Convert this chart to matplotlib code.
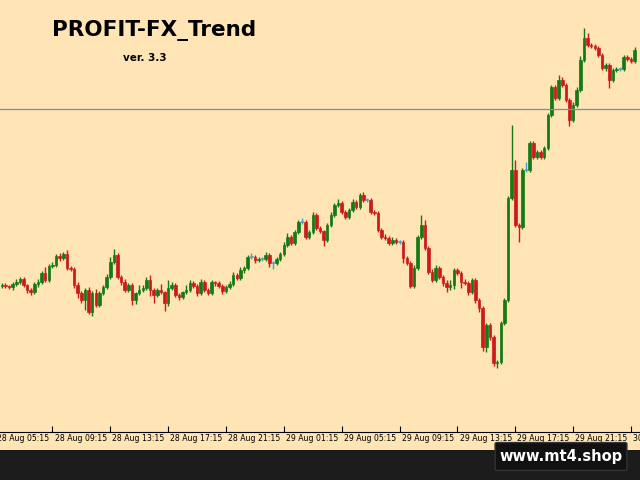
import matplotlib
matplotlib.use('Agg')
import matplotlib.pyplot as plt
from matplotlib.patches import Rectangle, FancyBboxPatch

# close prices (chart units), 15-minute candles
closes = [195, 194, 193, 196, 198, 201, 195, 190, 188, 196,
          198, 207, 200, 214, 215, 224, 222, 226, 212, 211,
          195, 187, 180, 190, 168, 187, 175, 187, 193, 203,
          218, 225, 203, 198, 190, 195, 180, 187, 190, 192,
          200, 190, 185, 190, 188, 177, 192, 195, 185, 183,
          188, 190, 197, 194, 187, 198, 190, 187, 198, 197,
          194, 189, 193, 196, 205, 202, 210,
          212, 223, 223, 220, 221, 221, 225, 217, 217, 221,
          226, 235, 243, 237, 248, 258, 258, 243, 248, 265,
          252, 249, 240, 255, 265, 275, 277, 268, 263, 270,
          278, 273, 285, 280, 280, 268, 267, 250, 243, 242,
          237, 240, 238, 238, 222, 217, 194, 212, 243, 255,
          232, 208, 200, 212, 203, 197, 193, 195, 210, 207,
          198, 197, 188, 200,
          180, 172, 133, 155, 143, 117, 118, 157, 180, 282,
          310, 255, 253, 310, 310, 337, 323, 328, 323, 332,
          365, 393, 382, 400, 395, 380, 360, 375, 390, 420,
          442, 435, 434, 432, 425, 412, 415, 400, 410, 411,
          411, 423, 421, 419, 430]
first_open = 194
# wick lengths above / below the body
wick_up = [2, 2, 1, 2, 3, 2, 2, 1, 2, 2,
           3, 2, 6, 2, 3, 2, 3, 2, 4, 2,
           2, 3, 2, 2, 3, 2, 4, 2, 2, 3,
           5, 6, 2, 2, 3, 2, 2, 1, 5, 3,
           3, 5, 2, 2, 6, 1, 8, 3, 2, 2,
           1, 5, 3, 2, 2, 3, 2, 2, 2, 1,
           2, 2, 2, 3, 3, 2, 3,
           2, 2, 4, 2, 2, 2, 3, 2, 2, 2,
           2, 3, 4, 2, 2, 2, 4, 2, 2, 3,
           2, 2, 1, 2, 3, 2, 4, 2, 2, 2,
           3, 2, 2, 3, 2, 2, 2, 2, 2, 3,
           2, 3, 2, 2, 2, 2, 2, 3, 2, 10,
           5, 2, 3, 3, 2, 2, 3, 5, 2, 2,
           2, 3, 2, 2,
           2, 2, 2, 2, 2, 2, 2, 2, 2, 2,
           45, 10, 2, 2, 8, 2, 2, 2, 2, 2,
           2, 2, 2, 5, 3, 2, 2, 3, 3, 4,
           10, 5, 2, 2, 2, 2, 2, 2, 2, 2,
           2, 2, 2, 2, 3]
wick_dn = [2, 2, 2, 3, 2, 2, 2, 3, 3, 2,
           3, 2, 2, 2, 2, 2, 3, 2, 2, 2,
           3, 5, 3, 10, 2, 4, 2, 2, 2, 2,
           2, 2, 2, 3, 2, 2, 5, 4, 2, 2,
           2, 6, 8, 2, 2, 8, 3, 2, 2, 3,
           2, 2, 2, 2, 3, 2, 2, 2, 2, 3,
           2, 3, 2, 2, 2, 2, 2,
           3, 2, 2, 3, 2, 2, 2, 4, 6, 2,
           2, 2, 2, 2, 2, 2, 2, 2, 2, 2,
           2, 2, 6, 2, 2, 2, 2, 2, 2, 2,
           2, 2, 2, 2, 2, 2, 2, 2, 2, 2,
           2, 2, 2, 2, 5, 2, 2, 2, 2, 2,
           2, 2, 2, 2, 2, 3, 5, 3, 4, 2,
           6, 2, 3, 2,
           3, 4, 4, 5, 3, 3, 5, 2, 2, 2,
           2, 2, 15, 2, 2, 2, 2, 2, 2, 2,
           2, 2, 2, 2, 2, 2, 6, 2, 2, 2,
           2, 2, 2, 2, 2, 2, 3, 8, 2, 2,
           2, 2, 2, 2, 2]

tick_labels = ['28 Aug 05:15', '28 Aug 09:15', '28 Aug 13:15',
               '28 Aug 17:15', '28 Aug 21:15', '29 Aug 01:15', '29 Aug 05:15',
               '29 Aug 09:15', '29 Aug 13:15', '29 Aug 17:15', '29 Aug 21:15',
               '30 Aug 01:15']
tick_index = [-2 + 16 * k for k in range(len(tick_labels))]
hline_level = 371

bg = '#FFE4B5'
up_color = '#147a14'
dn_color = '#cc1a1a'

fig = plt.figure(figsize=(6.4, 4.8), dpi=100, facecolor=bg)
fig.patches.append(Rectangle((0, 0), 1, 30 / 480, transform=fig.transFigure,
                             facecolor='#1c1c1c', edgecolor='none', zorder=0))
ax = fig.add_axes([0, 0.1, 1, 0.9])
ax.set_facecolor(bg)

n = len(closes)
prev = first_open
for i in range(n):
    o, c = prev, closes[i]
    top, bot = max(o, c), min(o, c)
    if c > o:
        col = up_color
    elif c < o:
        col = dn_color
    else:
        col = '#4aa0d0'
    ax.vlines(i, bot - wick_dn[i], top + wick_up[i], color=col, linewidth=1)
    ax.add_patch(Rectangle((i - 0.35, bot), 0.7, max(top - bot, 0.8),
                           facecolor=col, edgecolor=col, linewidth=0.5))
    prev = c

ax.axhline(hline_level, color='#6f93a8', linewidth=0.9)

ax.set_xticks(tick_index[1:])
ax.set_xticklabels([], fontsize=5.5)
ax.tick_params(axis='x', direction='in', length=4, color='black')
ax.set_xlim(-0.5, n + 0.5)
ax.set_ylim(48, 480)
ax.set_yticks([])
for s in ['top', 'right', 'left']:
    ax.spines[s].set_visible(False)
ax.spines['bottom'].set_color('black')

# time labels sit just right of each tick, the first one is cut by the edge
xform = ax.get_xaxis_transform()
for idx, lab in zip(tick_index, tick_labels):
    ax.text(idx + 0.6, -0.004, lab, transform=xform, fontsize=5.6,
            ha='left', va='top', color='black', clip_on=False)

fig.text(0.24, 0.937, 'PROFIT-FX_Trend', fontsize=15.5, fontweight='bold',
         ha='center', va='center', color='black')
fig.text(0.227, 0.88, 'ver. 3.3', fontsize=7.5, fontweight='bold',
         ha='center', va='center', color='black')

fig.patches.append(FancyBboxPatch((497 / 640, 11 / 480), 128 / 640, 25 / 480,
                                  boxstyle='round,pad=0.003', transform=fig.transFigure,
                                  facecolor='#111111', edgecolor='#333333', zorder=5))
fig.text(561 / 640, 23.5 / 480, 'www.mt4.shop', fontsize=10.5, fontweight='bold',
         color='white', ha='center', va='center', zorder=6)

fig.savefig('out.png', dpi=100, facecolor=bg)
